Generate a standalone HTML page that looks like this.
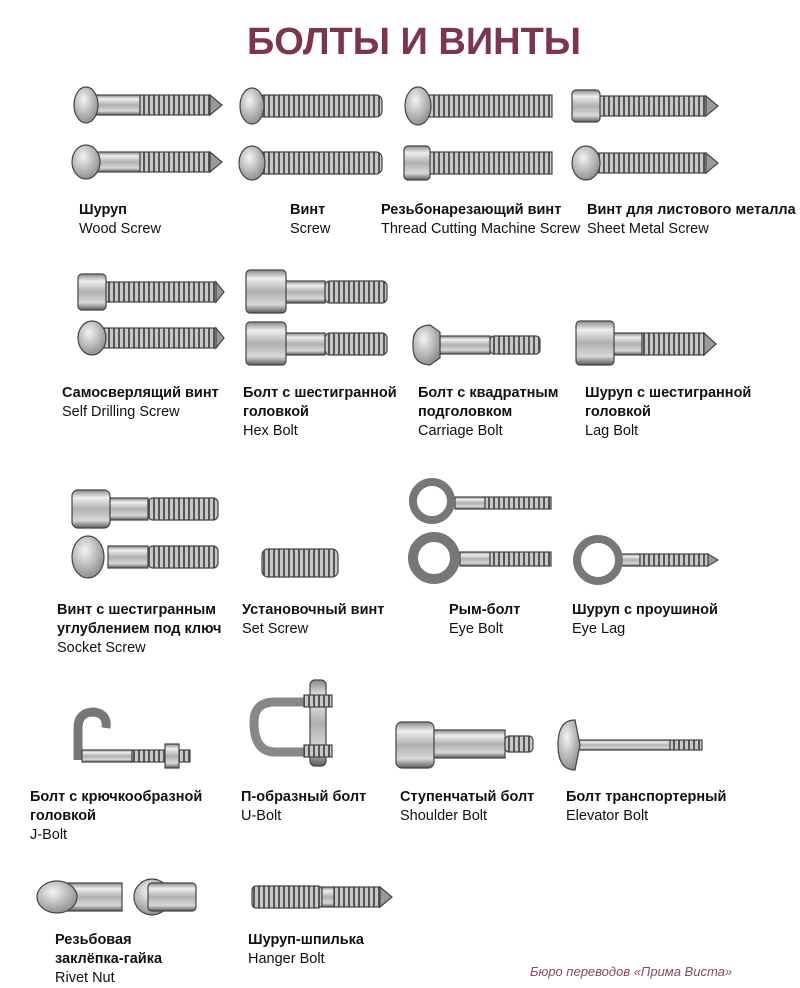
<!DOCTYPE html>
<html><head><meta charset="utf-8"><style>
html,body{margin:0;padding:0;background:#fff;}
body{width:800px;height:971px;position:relative;overflow:hidden;font-family:"Liberation Sans","DejaVu Sans",sans-serif;}
svg{position:absolute;left:0;top:0;}
.l{position:absolute;font-size:14.5px;line-height:19px;color:#111;white-space:nowrap;}
.l b{font-weight:bold;}
.t{position:absolute;left:0;width:828px;top:21px;text-align:center;font-size:38px;font-weight:bold;color:#7b3452;}
</style></head><body>
<div class="t">БОЛТЫ И ВИНТЫ</div>
<svg width="800" height="971" viewBox="0 0 800 971">
<defs>
<linearGradient id="m" x1="0" y1="0" x2="0" y2="1">
<stop offset="0" stop-color="#8a8a8a"/><stop offset=".2" stop-color="#eeeeee"/><stop offset=".5" stop-color="#b0b0b0"/><stop offset=".8" stop-color="#d8d8d8"/><stop offset="1" stop-color="#5a5a5a"/>
</linearGradient>
<pattern id="th" width="5" height="40" patternUnits="userSpaceOnUse">
<rect width="5" height="40" fill="#c8c8c8"/><rect x="3" width="2" height="40" fill="#555"/>
</pattern>
<radialGradient id="hd" cx=".4" cy=".35" r=".7"><stop offset="0" stop-color="#f4f4f4"/><stop offset="1" stop-color="#8a8a8a"/></radialGradient>
</defs>
<g stroke="#444" stroke-width="1.2">
<rect x="90" y="95" width="50" height="20" fill="url(#m)"/><rect x="140" y="95" width="70" height="20" fill="url(#th)"/><path d="M210 95 L222 105 L210 115Z" fill="#999"/><ellipse cx="86" cy="105" rx="12" ry="18" fill="url(#hd)"/>
<rect x="90" y="152" width="50" height="20" fill="url(#m)"/><rect x="140" y="152" width="70" height="20" fill="url(#th)"/><path d="M210 152 L222 162 L210 172Z" fill="#999"/><ellipse cx="86" cy="162" rx="14" ry="17" fill="url(#hd)"/>
<rect x="258" y="95" width="124" height="22" rx="6" fill="url(#th)"/><ellipse cx="252" cy="106" rx="12" ry="18" fill="url(#hd)"/>
<rect x="258" y="152" width="124" height="22" rx="6" fill="url(#th)"/><ellipse cx="252" cy="163" rx="13" ry="17" fill="url(#hd)"/>
<rect x="425" y="95" width="127" height="22" fill="url(#th)"/><ellipse cx="418" cy="106" rx="13" ry="19" fill="url(#hd)"/>
<rect x="425" y="152" width="127" height="22" fill="url(#th)"/><rect x="404" y="146" width="26" height="34" rx="4" fill="url(#m)"/>
<rect x="598" y="96" width="108" height="20" fill="url(#th)"/><path d="M706 96 L718 106 L706 116Z" fill="#999"/><rect x="572" y="90" width="28" height="32" rx="4" fill="url(#m)"/>
<rect x="598" y="153" width="108" height="20" fill="url(#th)"/><path d="M706 153 L718 163 L706 173Z" fill="#999"/><ellipse cx="586" cy="163" rx="14" ry="17" fill="url(#hd)"/>
<rect x="104" y="282" width="112" height="20" fill="url(#th)"/><path d="M216 282 L224 292 L216 302Z" fill="#999"/><rect x="78" y="274" width="28" height="36" rx="4" fill="url(#m)"/>
<rect x="104" y="328" width="112" height="20" fill="url(#th)"/><path d="M216 328 L224 338 L216 348Z" fill="#999"/><ellipse cx="92" cy="338" rx="14" ry="17" fill="url(#hd)"/>
<rect x="285" y="281" width="40" height="22" fill="url(#m)"/><rect x="325" y="281" width="62" height="22" rx="5" fill="url(#th)"/><rect x="246" y="270" width="40" height="43" rx="4" fill="url(#m)"/>
<rect x="285" y="333" width="40" height="22" fill="url(#m)"/><rect x="325" y="333" width="62" height="22" rx="5" fill="url(#th)"/><rect x="246" y="322" width="40" height="43" rx="4" fill="url(#m)"/>
<rect x="440" y="336" width="50" height="18" fill="url(#m)"/><rect x="490" y="336" width="50" height="18" rx="4" fill="url(#th)"/><path d="M430 325 Q412 326 413 345 Q412 364 430 365 L440 358 L440 332Z" fill="url(#hd)"/>
<rect x="612" y="333" width="30" height="22" fill="url(#m)"/><rect x="642" y="333" width="62" height="22" fill="url(#th)"/><path d="M704 333 L716 344 L704 355Z" fill="#999"/><rect x="576" y="321" width="38" height="44" rx="4" fill="url(#m)"/>
<rect x="108" y="498" width="40" height="22" fill="url(#m)"/><rect x="148" y="498" width="70" height="22" rx="5" fill="url(#th)"/><rect x="72" y="490" width="38" height="38" rx="6" fill="url(#m)"/>
<rect x="108" y="546" width="40" height="22" fill="url(#m)"/><rect x="148" y="546" width="70" height="22" rx="5" fill="url(#th)"/><ellipse cx="88" cy="557" rx="16" ry="21" fill="url(#hd)"/>
<rect x="262" y="549" width="76" height="28" rx="6" fill="url(#th)"/>
<rect x="455" y="497" width="30" height="12" fill="url(#m)"/><rect x="485" y="497" width="66" height="12" fill="url(#th)"/><circle cx="432" cy="501" r="19" fill="none" stroke="#777" stroke-width="8"/>
<rect x="460" y="552" width="30" height="14" fill="url(#m)"/><rect x="490" y="552" width="61" height="14" fill="url(#th)"/><circle cx="434" cy="558" r="21" fill="none" stroke="#777" stroke-width="10"/>
<rect x="620" y="554" width="20" height="12" fill="url(#m)"/><rect x="640" y="554" width="68" height="12" fill="url(#th)"/><path d="M708 554 L718 560 L708 566Z" fill="#999"/><circle cx="598" cy="560" r="21" fill="none" stroke="#777" stroke-width="8"/>
<path d="M78 760 L78 728 Q78 712 94 712 Q108 714 106 728" fill="none" stroke="#777" stroke-width="9"/>
<rect x="82" y="750" width="50" height="12" fill="url(#m)"/><rect x="132" y="750" width="58" height="12" fill="url(#th)"/><rect x="165" y="744" width="14" height="24" fill="url(#m)"/>
<path d="M305 702 L275 702 Q254 702 254 722 Q254 752 275 752 L320 752" fill="none" stroke="#888" stroke-width="9"/>
<rect x="310" y="680" width="16" height="86" rx="5" fill="url(#m)"/><rect x="304" y="695" width="28" height="12" fill="url(#th)"/><rect x="304" y="745" width="28" height="12" fill="url(#th)"/>
<rect x="430" y="730" width="75" height="28" fill="url(#m)"/><rect x="505" y="736" width="28" height="16" rx="4" fill="url(#th)"/><rect x="396" y="722" width="38" height="46" rx="6" fill="url(#m)"/>
<rect x="572" y="740" width="98" height="10" fill="url(#m)"/><rect x="670" y="740" width="32" height="10" fill="url(#th)"/><path d="M575 720 Q558 720 558 745 Q558 770 575 770 L580 745Z" fill="url(#hd)"/>
<rect x="60" y="883" width="62" height="28" fill="url(#m)"/><ellipse cx="57" cy="897" rx="20" ry="16" fill="url(#hd)"/>
<circle cx="152" cy="897" r="18" fill="url(#hd)"/><rect x="148" y="883" width="48" height="28" rx="4" fill="url(#m)"/>
<rect x="252" y="886" width="70" height="22" rx="4" fill="url(#th)"/><rect x="322" y="887" width="12" height="20" fill="url(#m)"/><rect x="334" y="887" width="46" height="20" fill="url(#th)"/><path d="M380 887 L392 897 L380 907Z" fill="#999"/>
</g>
</svg>
<div class="l" style="left:79px;top:201px"><b>Шуруп</b><br>Wood Screw</div>
<div class="l" style="left:290px;top:201px"><b>Винт</b><br>Screw</div>
<div class="l" style="left:381px;top:201px"><b>Резьбонарезающий винт</b><br>Thread Cutting Machine Screw</div>
<div class="l" style="left:587px;top:201px"><b>Винт для листового металла</b><br>Sheet Metal Screw</div>
<div class="l" style="left:62px;top:384px"><b>Самосверлящий винт</b><br>Self Drilling Screw</div>
<div class="l" style="left:243px;top:384px"><b>Болт с шестигранной<br>головкой</b><br>Hex Bolt</div>
<div class="l" style="left:418px;top:384px"><b>Болт с квадратным<br>подголовком</b><br>Carriage Bolt</div>
<div class="l" style="left:585px;top:384px"><b>Шуруп с шестигранной<br>головкой</b><br>Lag Bolt</div>
<div class="l" style="left:57px;top:601px"><b>Винт с шестигранным<br>углублением под ключ</b><br>Socket Screw</div>
<div class="l" style="left:242px;top:601px"><b>Установочный винт</b><br>Set Screw</div>
<div class="l" style="left:449px;top:601px"><b>Рым-болт</b><br>Eye Bolt</div>
<div class="l" style="left:572px;top:601px"><b>Шуруп с проушиной</b><br>Eye Lag</div>
<div class="l" style="left:30px;top:788px"><b>Болт с крючкообразной<br>головкой</b><br>J-Bolt</div>
<div class="l" style="left:241px;top:788px"><b>П-образный болт</b><br>U-Bolt</div>
<div class="l" style="left:400px;top:788px"><b>Ступенчатый болт</b><br>Shoulder Bolt</div>
<div class="l" style="left:566px;top:788px"><b>Болт транспортерный</b><br>Elevator Bolt</div>
<div class="l" style="left:55px;top:931px"><b>Резьбовая<br>заклёпка-гайка</b><br>Rivet Nut</div>
<div class="l" style="left:248px;top:931px"><b>Шуруп-шпилька</b><br>Hanger Bolt</div>
<div class="l" style="left:530px;top:962px;font-style:italic;color:#8a4a5a;font-size:13px">Бюро переводов «Прима Виста»</div>
</body></html>
